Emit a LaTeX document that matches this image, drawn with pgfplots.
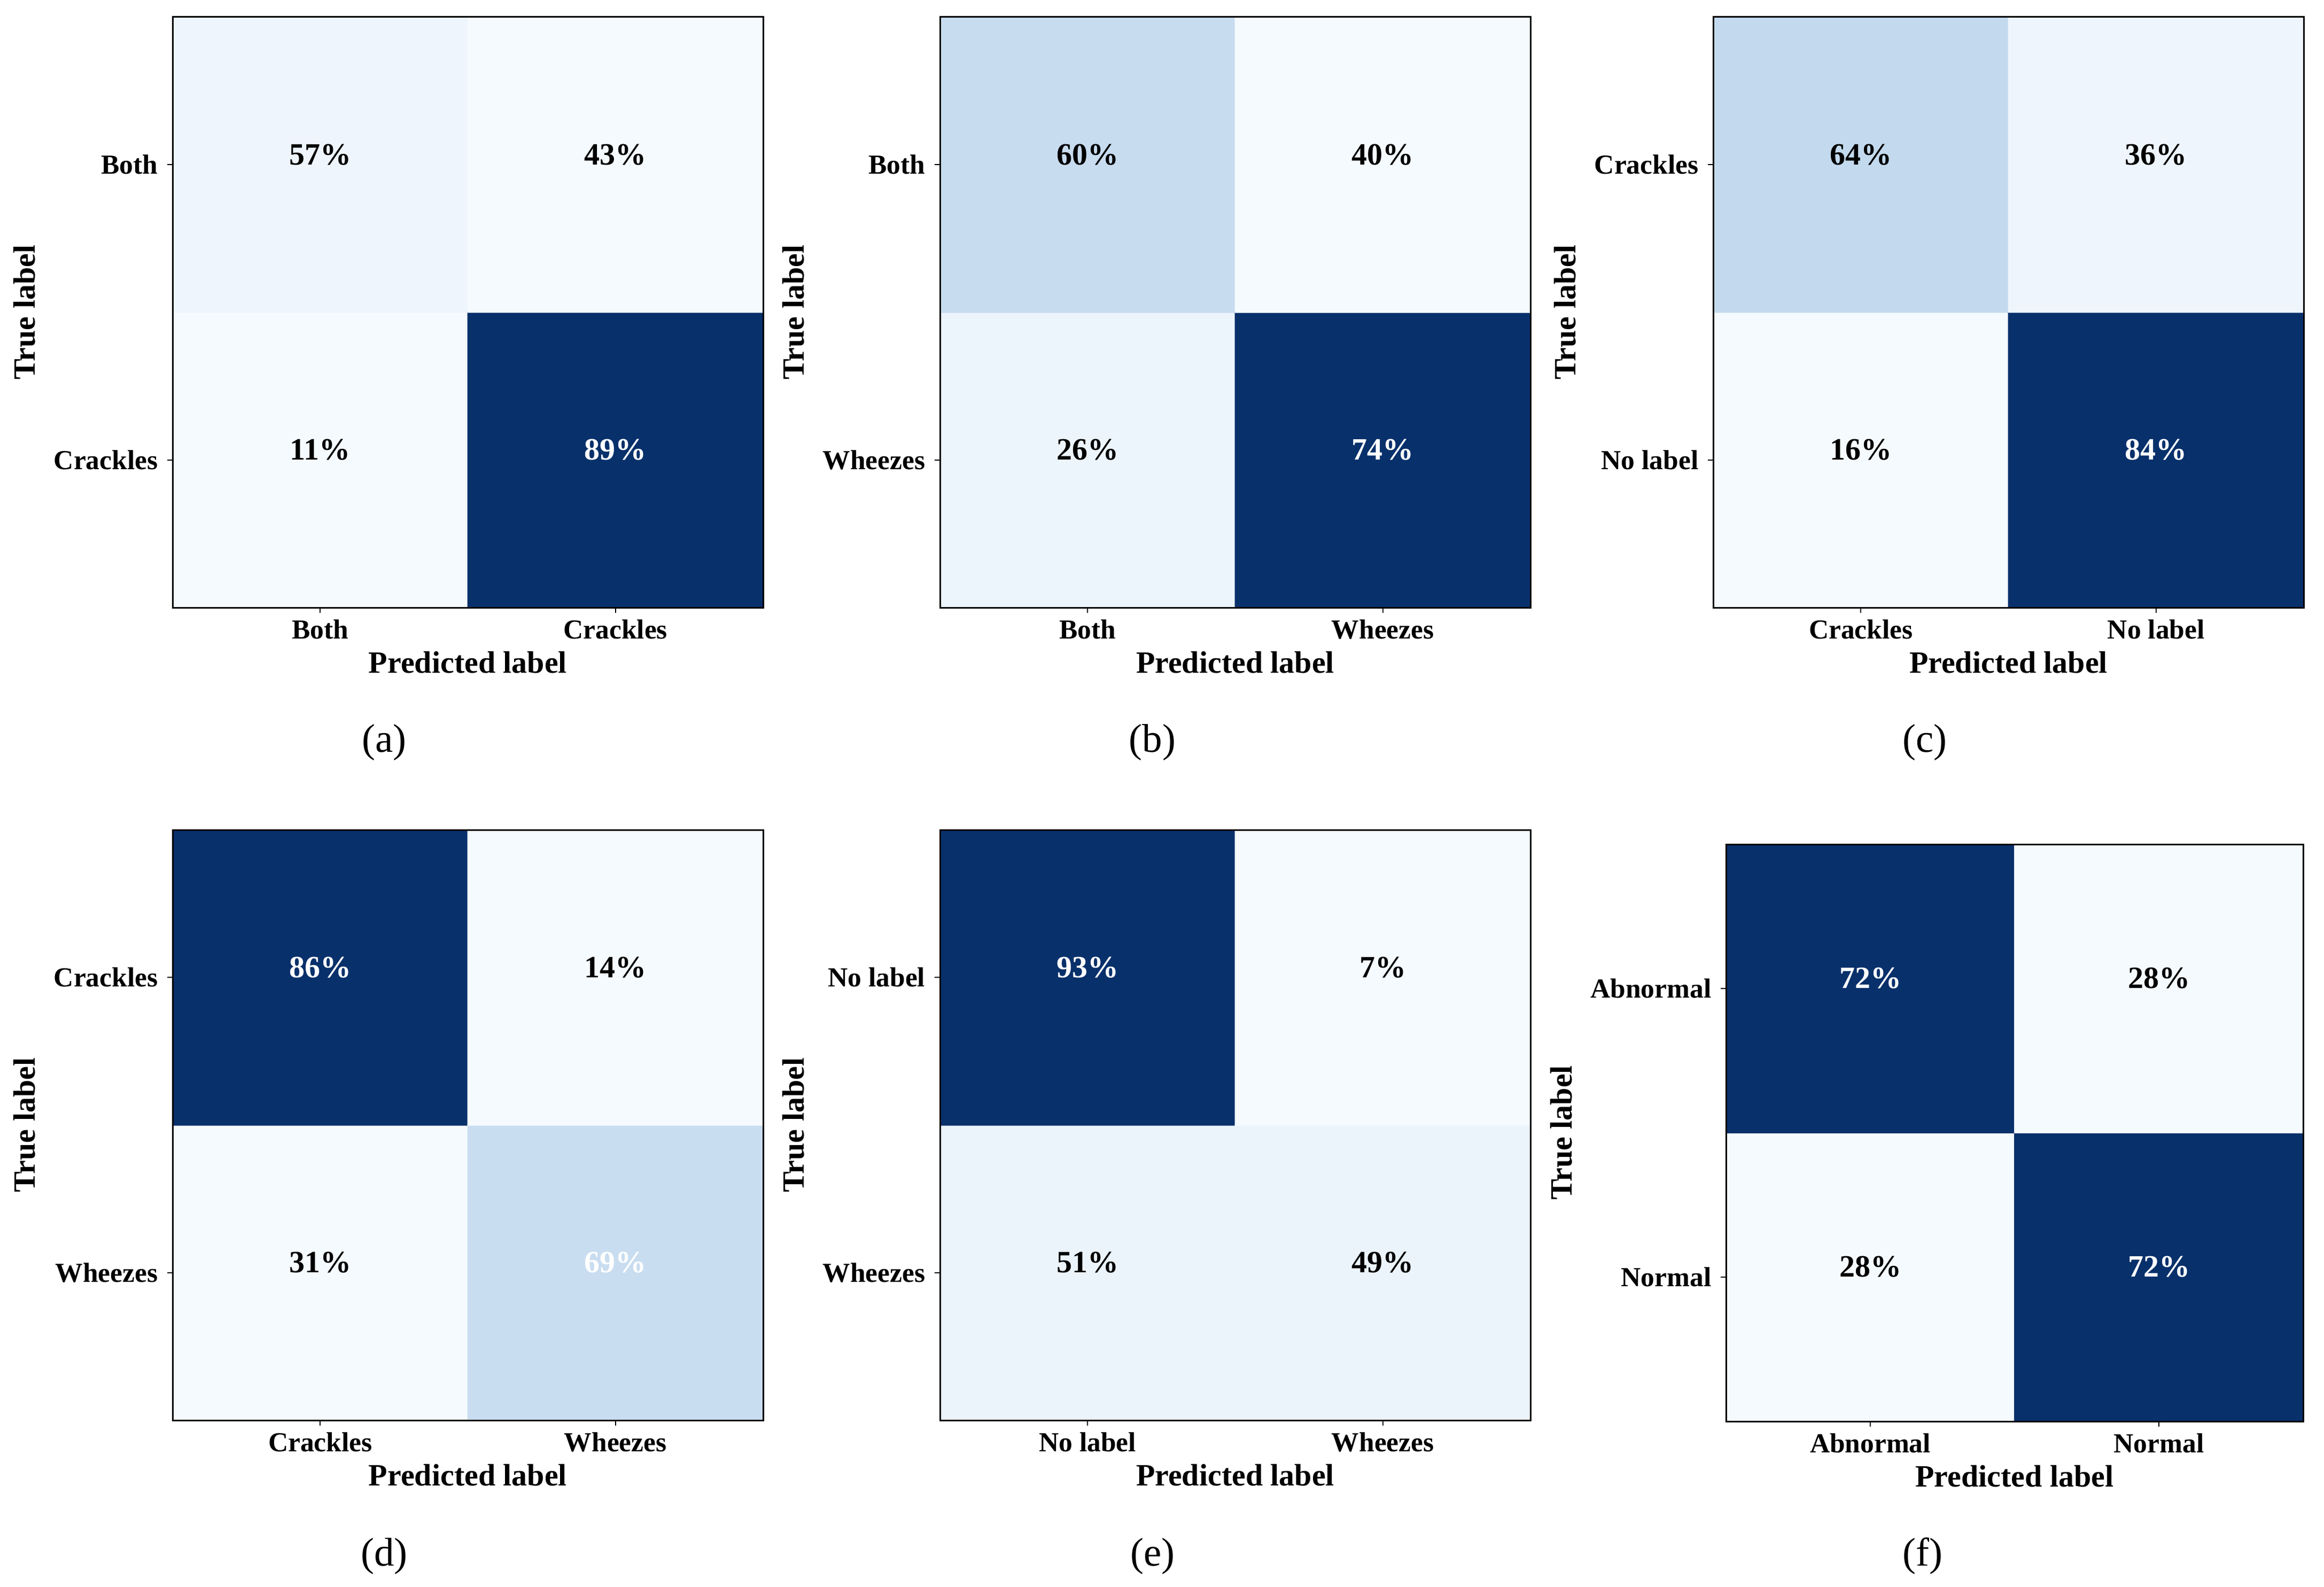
\documentclass[border=0pt]{standalone}
\usepackage{fontspec}
\setmainfont{Liberation Serif}
\usepackage{pgfplots}
\pgfplotsset{compat=1.18}

% 1 px of the reference = 0.2pt
\pgfplotsset{
  colormap={blues}{rgb255(0)=(247,251,255) rgb255(1)=(222,235,247) rgb255(2)=(198,219,239)
    rgb255(3)=(158,202,225) rgb255(4)=(107,174,214) rgb255(5)=(66,146,198)
    rgb255(6)=(33,113,181) rgb255(7)=(8,81,156) rgb255(8)=(8,48,107)},
  cm/.style={
    scale only axis, width=#1, height=#1,
    xmin=-0.5, xmax=1.5, ymin=-0.5, ymax=1.5,
    enlargelimits=false,
    xtick={0,1}, ytick={0,1},
    tick pos=left, tick align=outside, major tick length=2pt,
    tick style={black, line width=0.4pt},
    axis line style={line width=0.6pt},
    axis on top,
    colormap name=blues, point meta min=0, point meta max=1,
    ticklabel style={font=\fontsize{10.3}{12}\selectfont\bfseries},
    xticklabel style={yshift=1pt},
    label style={font=\fontsize{11.6}{14}\selectfont\bfseries},
    xlabel style={yshift=2.2pt},
    xlabel={Predicted label}, ylabel={True label},
    anchor=north west,
  },
  cm/.default=221pt,
  cells/.style={matrix plot*, mesh/cols=2, point meta=explicit},
  txt/.style={only marks, mark=none, point meta=explicit symbolic,
    nodes near coords,
    nodes near coords style={anchor=center, yshift=3.8pt, text=#1,
      font=\fontsize{11.6}{14}\selectfont\bfseries}},
}
\newcommand{\capfont}{\fontsize{15}{18}\selectfont}

\begin{document}
\begin{tikzpicture}
\useasboundingbox (0,0) rectangle (869.8pt,-594pt);

% (a)
\begin{axis}[cm, name=a, at={(64.6pt,-6.4pt)},
  xticklabels={Both, Crackles}, yticklabels={Crackles, Both}]
  \addplot[cells] coordinates {(0,0) [0.01] (1,0) [1] (0,1) [0.045] (1,1) [0.01]};
  \addplot[txt=black] coordinates {(0,1) [57\%] (1,1) [43\%] (0,0) [11\%]};
  \addplot[txt=white] coordinates {(1,0) [89\%]};
\end{axis}

% (b)
\begin{axis}[cm, name=b, at={(351.8pt,-6.4pt)},
  xticklabels={Both, Wheezes}, yticklabels={Wheezes, Both}]
  \addplot[cells] coordinates {(0,0) [0.05] (1,0) [1] (0,1) [0.24] (1,1) [0.01]};
  \addplot[txt=black] coordinates {(0,1) [60\%] (1,1) [40\%] (0,0) [26\%]};
  \addplot[txt=white] coordinates {(1,0) [74\%]};
\end{axis}

% (c)
\begin{axis}[cm, name=c, at={(641.2pt,-6.4pt)},
  xticklabels={Crackles, No label}, yticklabels={No label, Crackles}]
  \addplot[cells] coordinates {(0,0) [0.01] (1,0) [1] (0,1) [0.26] (1,1) [0.045]};
  \addplot[txt=black] coordinates {(0,1) [64\%] (1,1) [36\%] (0,0) [16\%]};
  \addplot[txt=white] coordinates {(1,0) [84\%]};
\end{axis}

% (d)
\begin{axis}[cm, name=d, at={(64.6pt,-310.6pt)},
  xticklabels={Crackles, Wheezes}, yticklabels={Wheezes, Crackles}]
  \addplot[cells] coordinates {(0,0) [0.01] (1,0) [0.235] (0,1) [1] (1,1) [0.01]};
  \addplot[txt=black] coordinates {(1,1) [14\%] (0,0) [31\%]};
  \addplot[txt=white] coordinates {(0,1) [86\%] (1,0) [69\%]};
\end{axis}

% (e)
\begin{axis}[cm, name=e, at={(351.8pt,-310.6pt)},
  xticklabels={No label, Wheezes}, yticklabels={Wheezes, No label}]
  \addplot[cells] coordinates {(0,0) [0.06] (1,0) [0.055] (0,1) [1] (1,1) [0.01]};
  \addplot[txt=black] coordinates {(1,1) [7\%] (0,0) [51\%] (1,0) [49\%]};
  \addplot[txt=white] coordinates {(0,1) [93\%]};
\end{axis}

% (f)
\begin{axis}[cm=216pt, name=f, at={(646pt,-316pt)},
  xticklabels={Abnormal, Normal}, yticklabels={Normal, Abnormal}]
  \addplot[cells] coordinates {(0,0) [0.01] (1,0) [1] (0,1) [1] (1,1) [0.01]};
  \addplot[txt=black] coordinates {(1,1) [28\%] (0,0) [28\%]};
  \addplot[txt=white] coordinates {(0,1) [72\%] (1,0) [72\%]};
\end{axis}

\node[font=\capfont] at (a.outer south |- 0,-277.8pt) {(a)};
\node[font=\capfont] at (b.outer south |- 0,-277.8pt) {(b)};
\node[font=\capfont] at (c.outer south |- 0,-277.8pt) {(c)};
\node[font=\capfont] at (d.outer south |- 0,-582.4pt) {(d)};
\node[font=\capfont] at (e.outer south |- 0,-582.4pt) {(e)};
\node[font=\capfont] at (f.outer south |- 0,-582.4pt) {(f)};
\end{tikzpicture}
\end{document}
